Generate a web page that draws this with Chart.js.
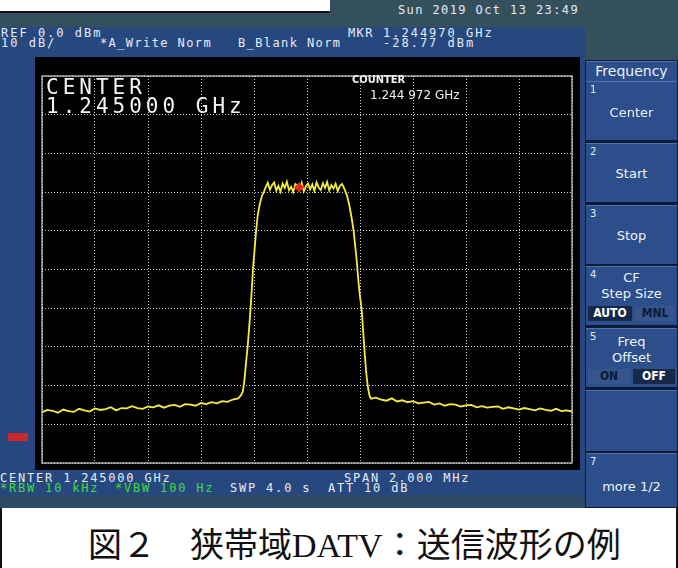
<!DOCTYPE html>
<html>
<head>
<meta charset="utf-8">
<script src="https://cdn.jsdelivr.net/npm/chart.js@4/dist/chart.umd.min.js"></script>
<style>
  html, body { margin: 0; padding: 0; background: #fff; }
  #page { position: relative; width: 678px; height: 568px; overflow: hidden; background: #fff; }
  .abs { position: absolute; white-space: pre; }
  .mono { font-family: "DejaVu Sans Mono", monospace; color: #e6ebf5; line-height: 11px; font-size: 12px; }
  .btn { position: absolute; left: 586px; width: 91px; background: #2c4f8c; border-top: 1px solid #4f73b0; }
  .btn .num { position: absolute; left: 4px; top: 2px; font: 10px "DejaVu Sans", sans-serif; color: #e6ebf5; }
  .btn .lbl { position: absolute; left: 0; width: 91px; text-align: center; font: 13px "DejaVu Sans", sans-serif; color: #eef2fa; }
  .sw { position: absolute; height: 15px; font: bold 12px "DejaVu Sans Condensed", "DejaVu Sans", sans-serif; text-align: center; line-height: 15px; }
</style>
</head>
<body>
<div id="page">
  <!-- instrument screen -->
  <div class="abs" style="left:0;top:12px;width:678px;height:496px;background:#27487f;"></div>
  <div class="abs" style="left:0;top:11px;width:330px;height:2px;background:#111;"></div>
  <div class="abs" style="left:0;top:13px;width:585px;height:14px;background:#34505c;"></div>
  <div class="abs" style="left:330px;top:0;width:348px;height:27px;background:#34505c;"></div>
  <div class="abs" style="left:585px;top:0;width:93px;height:60px;background:#34505c;"></div>
  <div class="abs" style="left:0;top:495px;width:585px;height:13px;background:#2f4a66;"></div>
  <div class="abs" style="left:35px;top:57px;width:545px;height:413px;background:#000;"></div>

  <div class="abs mono" style="left:398px;top:5px;letter-spacing:1.4px;">Sun 2019 Oct 13 23:49</div>
  <div class="abs mono" style="left:1px;top:28px;letter-spacing:2px;">REF 0.0 dBm</div>
  <div class="abs mono" style="left:1px;top:38px;letter-spacing:2px;">10 dB/</div>
  <div class="abs mono" style="left:100px;top:38px;letter-spacing:1.4px;">*A_Write Norm</div>
  <div class="abs mono" style="left:238px;top:38px;letter-spacing:1.4px;">B_Blank Norm</div>
  <div class="abs mono" style="left:348px;top:28px;letter-spacing:1.4px;">MKR</div>
  <div class="abs mono" style="left:383px;top:28px;letter-spacing:2px;">1.244970 GHz</div>
  <div class="abs mono" style="left:383px;top:38px;letter-spacing:2px;">-28.77 dBm</div>

  <canvas id="spectrum" width="545" height="413" class="abs" style="left:35px;top:57px;"></canvas>

  <div class="abs mono" style="left:46px;top:77px;font-size:21px;line-height:20px;letter-spacing:4px;color:#f4f4f4;">CENTER</div>
  <div class="abs mono" style="left:46px;top:96px;font-size:21px;line-height:20px;letter-spacing:4px;color:#f4f4f4;">1.245000 GHz</div>
  <div class="abs" style="left:352px;top:73px;font:bold 11px 'DejaVu Sans Condensed','DejaVu Sans',sans-serif;color:#f0f0f0;">COUNTER</div>
  <div class="abs" style="left:370px;top:88px;font:12px 'DejaVu Sans','sans-serif';color:#f0f0f0;">1.244 972 GHz</div>

  <div class="abs" style="left:8px;top:433px;width:20px;height:8px;background:#c8282e;"></div>

  <div class="abs mono" style="left:0;top:473px;letter-spacing:1.8px;">CENTER 1.245000 GHz</div>
  <div class="abs mono" style="left:344px;top:473px;letter-spacing:1.8px;">SPAN 2.000 MHz</div>
  <div class="abs mono" style="left:0;top:483px;letter-spacing:1.8px;color:#3fdc3f;">*RBW 10 kHz</div>
  <div class="abs mono" style="left:115px;top:483px;letter-spacing:1.8px;color:#3fdc3f;">*VBW 100 Hz</div>
  <div class="abs mono" style="left:230px;top:483px;letter-spacing:1.8px;">SWP 4.0 s</div>
  <div class="abs mono" style="left:328px;top:483px;letter-spacing:1.8px;">ATT 10 dB</div>

  <!-- soft key panel -->
  <div class="abs" style="left:585px;top:60px;width:93px;height:448px;background:#0d1b36;"></div>
  <div class="btn" style="top:61px;height:19px;"><div class="lbl" style="top:1px;font-size:14px;">Frequency</div></div>
  <div class="btn" style="top:81px;height:58px;"><div class="num">1</div><div class="lbl" style="top:23px;">Center</div></div>
  <div class="btn" style="top:143px;height:58px;"><div class="num">2</div><div class="lbl" style="top:22px;">Start</div></div>
  <div class="btn" style="top:205px;height:58px;"><div class="num">3</div><div class="lbl" style="top:22px;">Stop</div></div>
  <div class="btn" style="top:266px;height:58px;"><div class="num">4</div><div class="lbl" style="top:3px;">CF</div><div class="lbl" style="top:19px;">Step Size</div>
    <div class="sw" style="left:2px;top:39px;width:44px;background:#17294a;color:#fff;">AUTO</div>
    <div class="sw" style="left:49px;top:39px;width:40px;background:#35558c;color:#0d1b36;">MNL</div></div>
  <div class="btn" style="top:328px;height:58px;"><div class="num">5</div><div class="lbl" style="top:5px;">Freq</div><div class="lbl" style="top:21px;">Offset</div>
    <div class="sw" style="left:2px;top:40px;width:42px;background:#35558c;color:#0d1b36;">ON</div>
    <div class="sw" style="left:47px;top:40px;width:42px;background:#17294a;color:#fff;">OFF</div></div>
  <div class="btn" style="top:390px;height:60px;"></div>
  <div class="btn" style="top:453px;height:53px;"><div class="num">7</div><div class="lbl" style="top:25px;">more 1/2</div></div>

  <!-- caption -->
  <div class="abs" style="left:0;top:508px;width:2px;height:60px;background:#111;"></div>
  <div class="abs" style="left:676px;top:508px;width:2px;height:60px;background:#111;"></div>
  <div class="abs" style="left:88px;top:518px;font-size:34px;color:#111;font-family:'Liberation Serif','Noto Sans CJK JP',serif;">図２　狭帯域DATV：送信波形の例</div>
</div>

<script>
// frequency offset from 1.245000 GHz, MHz
const freqMHz = [
  -1.00, -0.98, -0.96, -0.94, -0.92, -0.90, -0.88, -0.86, -0.84, -0.82,
  -0.80, -0.78, -0.76, -0.74, -0.72, -0.70, -0.68, -0.66, -0.64, -0.62,
  -0.60, -0.58, -0.56, -0.54, -0.52, -0.50, -0.48, -0.46, -0.44, -0.42,
  -0.40, -0.38, -0.36, -0.34, -0.32, -0.30, -0.28, -0.26,
  -0.25, -0.242, -0.236, -0.23, -0.224, -0.216, -0.21, -0.204, -0.198, -0.192,
  -0.186, -0.178, -0.17, -0.162, -0.155,
  -0.148, -0.140, -0.132, -0.124, -0.116, -0.108, -0.100, -0.092, -0.084, -0.076,
  -0.068, -0.060, -0.052, -0.044, -0.036, -0.028, -0.020, -0.012, -0.004, 0.004,
  0.012, 0.020, 0.028, 0.036, 0.044, 0.052, 0.060, 0.068, 0.076, 0.084,
  0.092, 0.100, 0.108, 0.116, 0.124, 0.132, 0.140,
  0.146, 0.152, 0.16, 0.168, 0.176, 0.182, 0.188, 0.194, 0.20, 0.206,
  0.212, 0.218, 0.224, 0.23, 0.236, 0.242,
  0.26, 0.28, 0.30, 0.32, 0.34, 0.36, 0.38, 0.40, 0.42, 0.44,
  0.46, 0.48, 0.50, 0.52, 0.54, 0.56, 0.58, 0.60, 0.62, 0.64,
  0.66, 0.68, 0.70, 0.72, 0.74, 0.76, 0.78, 0.80, 0.82, 0.84,
  0.86, 0.88, 0.90, 0.92, 0.94, 0.96, 0.98, 1.00
];

// trace A level, dBm
const levelDbm = [
  -86.9, -86.3, -86.5, -87.0, -86.2, -86.6, -86.8, -86.0, -86.4, -86.7,
  -85.9, -86.3, -86.1, -85.6, -86.4, -85.8, -85.9, -85.3, -85.8, -86.0,
  -85.4, -85.6, -85.1, -85.7, -85.2, -85.0, -85.5, -84.8, -84.9, -85.2,
  -84.5, -84.8, -84.3, -84.6, -84.0, -84.2, -83.6, -83.3,
  -82.6, -81.5, -78.5, -74.0, -70.0, -63.0, -57.0, -50.0, -45.0, -40.0,
  -36.0, -33.0, -31.0, -29.8, -28.6,
  -27.6, -29.4, -28.2, -27.5, -29.6, -28.4, -29.9, -27.8, -28.9, -27.3,
  -29.5, -28.6, -30.0, -27.9, -28.3, -29.4, -27.6, -29.8, -28.5, -27.8,
  -29.3, -28.0, -29.7, -27.5, -28.8, -29.5, -27.7, -28.9, -27.4, -29.6,
  -28.2, -29.1, -27.8, -29.7, -28.4, -27.9, -29.0,
  -30.0, -31.2, -33.5, -36.5, -40.0, -44.0, -48.0, -53.0, -57.0, -60.0,
  -66.0, -72.0, -77.0, -80.5, -82.6, -83.4,
  -83.1, -83.6, -83.9, -83.3, -84.1, -83.8, -84.3, -84.0, -84.6, -84.4,
  -84.2, -84.9, -84.6, -85.2, -84.8, -84.9, -85.4, -85.1, -85.0, -85.6,
  -85.3, -85.7, -85.5, -85.4, -86.0, -85.6, -85.9, -86.2, -85.8, -86.1,
  -86.4, -85.9, -86.3, -86.5, -86.0, -86.6, -86.4, -86.7
];

const markerFreqMHz = [-0.030];
const markerLevelDbm = [-28.77];

const spanMHz = [-1, 1];      // 2.000 MHz span
const levelRange = [-100, 0]; // REF 0.0 dBm, 10 dB/div

const frame = {
  id: "frame",
  afterDraw(chart) {
    const { ctx, chartArea: a } = chart;
    ctx.save();
    ctx.strokeStyle = "#d4d4d4";
    ctx.lineWidth = 1.2;
    ctx.strokeRect(a.left, a.top, a.right - a.left, a.bottom - a.top);
    ctx.restore();
  }
};

const ctx = document.getElementById("spectrum").getContext("2d");
new Chart(ctx, {
  type: "line",
  data: {
    datasets: [{
      label: "A_Write",
      data: freqMHz.map((f, i) => ({ x: f, y: levelDbm[i] })),
      borderColor: "#f3ee3c",
      borderWidth: 1.8,
      pointRadius: 0,
      tension: 0,
      order: 2
    }, {
      label: "MKR",
      data: markerFreqMHz.map((f, i) => ({ x: f, y: markerLevelDbm[i] })),
      showLine: false,
      pointStyle: "rectRot",
      pointRadius: 4.5,
      backgroundColor: "#e8281e",
      borderColor: "#e8281e",
      order: 1
    }]
  },
  options: {
    responsive: false,
    animation: false,
    layout: { padding: { left: 7, top: 19, right: 8, bottom: 7 } },
    plugins: { legend: { display: false }, tooltip: { enabled: false } },
    scales: {
      x: {
        type: "linear",
        min: spanMHz[0],
        max: spanMHz[1],
        ticks: { display: false, stepSize: 0.2 },
        grid: { color: "rgba(225,225,225,0.9)", lineWidth: 1, drawTicks: false },
        border: { display: false, dash: [1, 2] },
        afterFit: s => { s.height = 0; }
      },
      y: {
        min: levelRange[0],
        max: levelRange[1],
        ticks: { display: false, stepSize: 10 },
        grid: { color: "rgba(225,225,225,0.9)", lineWidth: 1, drawTicks: false },
        border: { display: false, dash: [1, 2] },
        afterFit: s => { s.width = 0; }
      }
    }
  },
  plugins: [frame]
});
</script>
</body>
</html>
